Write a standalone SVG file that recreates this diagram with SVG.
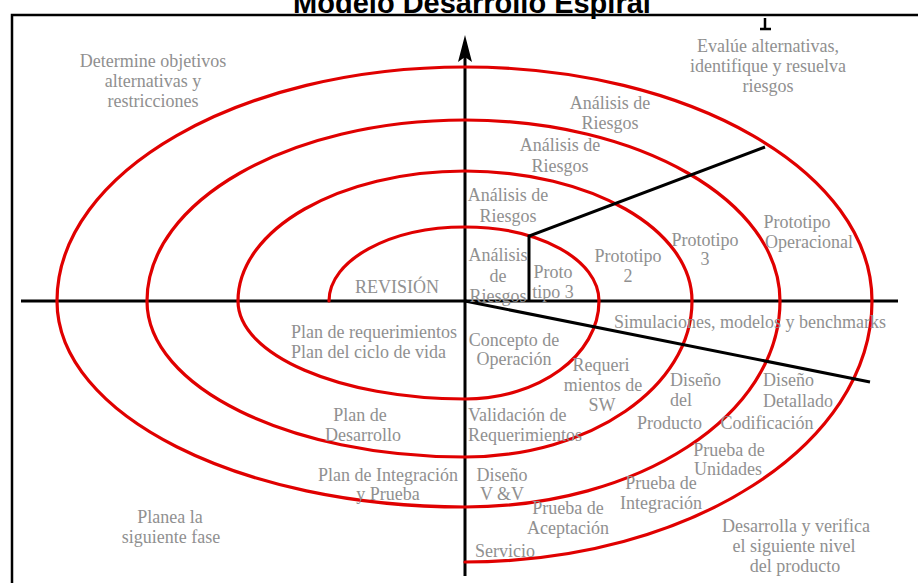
<svg xmlns="http://www.w3.org/2000/svg" width="918" height="583" viewBox="0 0 918 583">
<style>
.t{font-family:"Liberation Serif","Times New Roman",serif;font-size:18px;fill:#909090;text-anchor:middle}
.s{text-anchor:start}
.blk{stroke:#000;stroke-width:3;fill:none;stroke-linecap:butt}
.sp{stroke:#e00000;stroke-width:3.2;fill:none;stroke-linejoin:round;stroke-linecap:round}
.title{font-family:"Liberation Sans",Arial,sans-serif;font-size:29px;font-weight:bold;fill:#000;text-anchor:middle}
</style>
<rect width="918" height="583" fill="#fff"/>
<text class="title" x="472" y="13">Modelo Desarrollo Espiral</text>
<g id="frame">
<path d="M12,583 V15 H918" stroke="#000" stroke-width="2.5" fill="none"/>
<path d="M765,18 V28 M760,29 H771" stroke="#000" stroke-width="2.5" fill="none"/>
</g>
<g id="connectors">
<path class="blk" d="M21,301 H898"/>
<path class="blk" d="M465,576 V55"/>
<polygon points="465,35 458,62 465,57 472,62" fill="#000"/>
<path class="sp" d="M329,301 C329,260 390,227 465,227 C540,227 599,260 599,301 C599,355 539,399 465,399 C340,399 238,355 238,301 C238,229 340,171 465,171 C590,171 692,229 692,301 C692,387 590,457 465,457 C289,457 147,387 147,301 C147,201 289,120 465,120 C639,120 780,201 780,301 C780,415 639,507 465,507 C240,507 57,415 57,301 C57,172 240,67 465,67 C690,67 872,172 872,301 C872,445 690,562 465,562"/>
<path class="blk" d="M529,301 V236 L765,147"/>
<path class="blk" d="M465,301 L870,382"/>
</g>
<g id="quadrant-labels">
<text class="t" x="153" y="67">Determine objetivos</text>
<text class="t" x="153" y="87">alternativas y</text>
<text class="t" x="153" y="107">restricciones</text>
<text class="t" x="768" y="52">Evalúe alternativas,</text>
<text class="t" x="768" y="72">identifique y resuelva</text>
<text class="t" x="768" y="92">riesgos</text>
<text class="t" x="796" y="532">Desarrolla y verifica</text>
<text class="t" x="794" y="552">el siguiente nivel</text>
<text class="t" x="795" y="572">del producto</text>
<text class="t" x="170" y="523">Planea la</text>
<text class="t" x="171" y="543">siguiente fase</text>
</g>
<g id="risk-analysis">
<text class="t" x="610" y="109">Análisis de</text>
<text class="t" x="610" y="129">Riesgos</text>
<text class="t" x="560" y="151">Análisis de</text>
<text class="t" x="560" y="172">Riesgos</text>
<text class="t" x="508" y="201">Análisis de</text>
<text class="t" x="508" y="222">Riesgos</text>
<text class="t" x="498" y="261">Análisis</text>
<text class="t" x="498" y="282">de</text>
<text class="t" x="498" y="302">Riesgos</text>
</g>
<g id="prototypes">
<text class="t" x="553" y="278">Proto</text>
<text class="t" x="553" y="298">tipo 3</text>
<text class="t" x="628" y="262">Prototipo</text>
<text class="t" x="628" y="282">2</text>
<text class="t" x="705" y="246">Prototipo</text>
<text class="t" x="705" y="265">3</text>
<text class="t" x="797" y="228">Prototipo</text>
<text class="t" x="809" y="248">Operacional</text>
<text class="t" x="750" y="328">Simulaciones, modelos y benchmarks</text>
</g>
<g id="review">
<text class="t" x="397" y="293">REVISIÓN</text>
<text class="t s" x="291" y="338">Plan de requerimientos</text>
<text class="t s" x="291" y="358">Plan del ciclo de vida</text>
<text class="t" x="360" y="421">Plan de</text>
<text class="t" x="363" y="441">Desarrollo</text>
<text class="t" x="388" y="481">Plan de Integración</text>
<text class="t" x="388" y="500">y Prueba</text>
</g>
<g id="development">
<text class="t" x="514" y="346">Concepto de</text>
<text class="t" x="514" y="365">Operación</text>
<text class="t" x="601" y="371">Requeri</text>
<text class="t" x="603" y="391">mientos de</text>
<text class="t" x="602" y="411">SW</text>
<text class="t s" x="670" y="386">Diseño</text>
<text class="t s" x="670" y="406">del</text>
<text class="t s" x="637" y="429">Producto</text>
<text class="t s" x="763" y="386">Diseño</text>
<text class="t s" x="763" y="407">Detallado</text>
<text class="t" x="767" y="429">Codificación</text>
<text class="t" x="729" y="456">Prueba de</text>
<text class="t" x="728" y="475">Unidades</text>
<text class="t" x="661" y="489">Prueba de</text>
<text class="t" x="661" y="509">Integración</text>
<text class="t s" x="468" y="421">Validación de</text>
<text class="t s" x="468" y="441">Requerimientos</text>
<text class="t" x="502" y="481">Diseño</text>
<text class="t" x="502" y="500">V &amp;V</text>
<text class="t" x="568" y="514">Prueba de</text>
<text class="t" x="568" y="534">Aceptación</text>
<text class="t" x="505" y="557">Servicio</text>
</g>
</svg>
